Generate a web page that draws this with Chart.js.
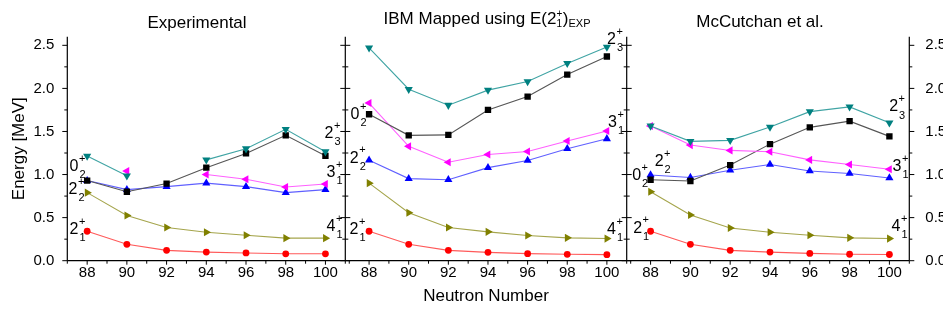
<!DOCTYPE html>
<html><head><meta charset="utf-8">
<script src="https://cdn.jsdelivr.net/npm/chart.js@4.4.0/dist/chart.umd.min.js"></script>
<style>
html,body{margin:0;padding:0;background:#fff;}
#wrap{position:relative;width:943px;height:313px;overflow:hidden;background:#fff;}
#wrap canvas{position:absolute;left:0;top:0;}
</style></head><body>
<div id="wrap">
<canvas id="c1" width="943" height="313" style="width:943px;height:313px"></canvas>
<canvas id="c2" width="943" height="313" style="width:943px;height:313px"></canvas>
<canvas id="c3" width="943" height="313" style="width:943px;height:313px"></canvas>
</div>
<script>
// ---------- data ----------
const neutronNumbers = [88, 90, 92, 94, 96, 98, 100];
const xTickLabels = [88, 90, 92, 94, 96, 98, 100];
const yTickLabels = [0.0, 0.5, 1.0, 1.5, 2.0, 2.5];

// Experimental
const exp_2_1 = [0.342, 0.190, 0.120, 0.100, 0.090, 0.080, 0.080];
const exp_4_1 = [0.790, 0.525, 0.385, 0.330, 0.295, 0.262, 0.262];
const exp_2_2 = [0.930, 0.825, 0.860, 0.900, 0.860, 0.790, 0.825];
const exp_0_2 = [0.930, 0.800, 0.895, 1.080, 1.245, 1.455, 1.217];
const exp_3_1 = [null, 1.040, null, 1.000, 0.945, 0.855, 0.890];
const exp_2_3 = [1.215, 0.985, null, 1.170, 1.300, 1.525, 1.265];

// IBM mapped using E(2_1+)_EXP
const ibm_2_1 = [0.342, 0.190, 0.120, 0.097, 0.082, 0.074, 0.070];
const ibm_4_1 = [0.900, 0.556, 0.385, 0.335, 0.292, 0.265, 0.257];
const ibm_2_2 = [1.167, 0.953, 0.940, 1.080, 1.163, 1.300, 1.415];
const ibm_0_2 = [1.700, 1.455, 1.460, 1.750, 1.905, 2.160, 2.370];
const ibm_3_1 = [1.830, 1.327, 1.143, 1.233, 1.268, 1.389, 1.505];
const ibm_2_3 = [2.470, 1.990, 1.805, 1.980, 2.080, 2.290, 2.480];

// McCutchan et al.
const mcc_2_1 = [0.342, 0.190, 0.120, 0.100, 0.085, 0.075, 0.072];
const mcc_4_1 = [0.800, 0.530, 0.380, 0.330, 0.295, 0.265, 0.257];
const mcc_2_2 = [0.995, 0.965, 1.050, 1.117, 1.042, 1.012, 0.960];
const mcc_0_2 = [0.940, 0.925, 1.110, 1.353, 1.548, 1.620, 1.443];
const mcc_3_1 = [1.564, 1.342, 1.280, 1.264, 1.170, 1.117, 1.062];
const mcc_2_3 = [1.564, 1.385, 1.397, 1.552, 1.730, 1.785, 1.600];

// ---------- styles ----------
const FONT = '"Liberation Sans", Arial, sans-serif';
Chart.defaults.color = '#000';
Chart.defaults.font.family = FONT;

const seriesStyle = {
  s21: {mk:'#ff0000', ln:'#ff5a5a', ps:'circle',   rot:0,   r:3.4},
  s41: {mk:'#808000', ln:'#a5a54c', ps:'triangle', rot:90,  r:4.7},
  s22: {mk:'#0000ff', ln:'#6060ff', ps:'triangle', rot:0,   r:4.7},
  s02: {mk:'#000000', ln:'#555555', ps:'rect',     rot:0,   r:4.5},
  s31: {mk:'#ff00ff', ln:'#ff60ff', ps:'triangle', rot:270, r:4.7},
  s23: {mk:'#008080', ln:'#40a4a4', ps:'triangle', rot:180, r:4.7}
};

function makeDatasets(list) {
  return list.map(([key, label, arr]) => {
    const s = seriesStyle[key];
    return {
      label: label,
      data: neutronNumbers.map((n, i) => ({x: n, y: arr[i]})),
      borderColor: s.ln, borderWidth: 1.1,
      backgroundColor: s.mk,
      pointBackgroundColor: s.mk, pointBorderColor: s.mk, pointBorderWidth: 0,
      pointStyle: s.ps, pointRotation: s.rot, pointRadius: s.r,
      spanGaps: false, tension: 0, fill: false
    };
  });
}

// level labels (data coordinates)
const labels1 = [
  {m:'2', s:'1', x:87.34, y:0.357}, {m:'4', s:'1', x:100.28, y:0.392},
  {m:'2', s:'2', x:87.29, y:0.822}, {m:'0', s:'2', x:87.34, y:1.090},
  {m:'3', s:'1', x:100.28, y:1.020}, {m:'2', s:'3', x:100.18, y:1.473}
];
const labels2 = [
  {m:'2', s:'3', x:100.23, y:2.566}, {m:'0', s:'2', x:87.29, y:1.694},
  {m:'3', s:'1', x:100.28, y:1.601}, {m:'2', s:'2', x:87.25, y:1.190},
  {m:'4', s:'1', x:100.23, y:0.357}, {m:'2', s:'1', x:87.24, y:0.357}
];
const labels3 = [
  {m:'2', s:'3', x:100.21, y:1.784}, {m:'2', s:'2', x:88.43, y:1.151},
  {m:'0', s:'2', x:87.30, y:0.988}, {m:'3', s:'1', x:100.38, y:1.093},
  {m:'4', s:'1', x:100.33, y:0.395}, {m:'2', s:'1', x:87.35, y:0.377}
];

function drawLevel(ctx, px, py, m, sub) {
  ctx.save();
  ctx.fillStyle = '#000';
  ctx.textBaseline = 'middle';
  ctx.font = '16px ' + FONT;
  ctx.textAlign = 'center';
  ctx.fillText(m, px, py);
  const w = ctx.measureText(m).width;
  ctx.font = '11px ' + FONT;
  ctx.textAlign = 'left';
  ctx.fillText('+', px + w/2 + 0.5, py - 8);
  ctx.fillText(sub, px + w/2 + 1, py + 8.5);
  ctx.restore();
}

function drawTitle(ctx, parts, cx, baseline) {
  ctx.save();
  ctx.fillStyle = '#000';
  ctx.textBaseline = 'alphabetic';
  let total = 0;
  const widths = parts.map(p => {
    ctx.font = p.size + 'px ' + FONT;
    const w = p.stack ? Math.max(ctx.measureText(p.t).width, ctx.measureText(p.t2).width) : ctx.measureText(p.t).width;
    total += w + (p.gap || 0);
    return w;
  });
  let x = cx - total/2;
  parts.forEach((p, i) => {
    ctx.font = p.size + 'px ' + FONT;
    ctx.textAlign = 'left';
    if (p.stack) {
      ctx.fillText(p.t, x, baseline + p.dy);
      ctx.fillText(p.t2, x, baseline + p.dy2);
    } else {
      ctx.fillText(p.t, x, baseline + (p.dy || 0));
    }
    x += widths[i] + (p.gap || 0);
  });
  ctx.restore();
}

const axesPlugin = {
  id: 'axesPlugin',
  afterDraw(chart, args, opts) {
    const {ctx, chartArea: a, scales: {x, y}} = chart;
    ctx.save();
    ctx.strokeStyle = '#000';
    ctx.lineWidth = 1.2;
    ctx.beginPath();
    ctx.moveTo(a.left, a.top); ctx.lineTo(a.left, a.bottom);
    if (opts.right) { ctx.moveTo(a.right, a.top); ctx.lineTo(a.right, a.bottom); }
    ctx.moveTo(a.left, a.bottom); ctx.lineTo(a.right, a.bottom);
    ctx.stroke();
    ctx.lineWidth = 1;
    ctx.beginPath();
    const yMaj = yTickLabels;
    const yMin = yMaj.map(v => v + 0.25);
    const drawY = (xp, mode, side) => {
      yMaj.forEach(v => {
        const p = y.getPixelForValue(v);
        if (mode === 'cross') { ctx.moveTo(xp - 5, p); ctx.lineTo(xp + 5, p); }
        else { ctx.moveTo(xp, p); ctx.lineTo(xp + side*5, p); }
      });
      yMin.forEach(v => {
        if (v > y.max) return;
        const p = y.getPixelForValue(v);
        if (mode === 'cross') { ctx.moveTo(xp - 3, p); ctx.lineTo(xp + 3, p); }
        else { ctx.moveTo(xp, p); ctx.lineTo(xp + side*3, p); }
      });
    };
    drawY(a.left, opts.leftMode, -1);
    if (opts.right) drawY(a.right, 'out', 1);
    xTickLabels.forEach(v => {
      const p = x.getPixelForValue(v);
      ctx.moveTo(p, a.bottom); ctx.lineTo(p, a.bottom + 4);
    });
    for (let v = 87; v <= 101; v += 2) {
      if (v < x.min || v > x.max) continue;
      const p = x.getPixelForValue(v);
      ctx.moveTo(p, a.bottom); ctx.lineTo(p, a.bottom + 3);
    }
    ctx.stroke();
    // x tick labels from the x scale
    ctx.fillStyle = '#000';
    ctx.font = '15px ' + FONT;
    ctx.textAlign = 'center';
    ctx.textBaseline = 'alphabetic';
    xTickLabels.forEach(v => {
      ctx.fillText(String(v), x.getPixelForValue(v), a.bottom + 16.3);
    });
    ctx.restore();
    (opts.levels || []).forEach(l => {
      drawLevel(ctx, x.getPixelForValue(l.x), y.getPixelForValue(l.y), l.m, l.s);
    });
    if (opts.title) drawTitle(ctx, opts.title.parts, opts.title.cx, opts.title.baseline);
  }
};

function makeChart(id, cfg) {
  const xOpts = {
    type: 'linear', min: cfg.xmin, max: 101,
    grid: {display: false}, border: {display: false},
    afterBuildTicks: s => { s.ticks = xTickLabels.map(v => ({value: v})); },
    ticks: {display: false},
    afterFit: s => { s.height = 313 - 260.7; },
    title: cfg.xTitle ? {display: true, text: 'Neutron Number', font: {size: 17}, padding: {top: 0, bottom: 6.5}} : {display: false}
  };
  const yOpts = {
    type: 'linear', min: 0, max: 2.6,
    position: cfg.yPos || 'left',
    display: cfg.yDisplay,
    grid: {display: false}, border: {display: false},
    afterBuildTicks: s => { s.ticks = yTickLabels.map(v => ({value: v})); },
    ticks: {font: {size: 15}, padding: cfg.yPad || 5, callback: v => Number(v).toFixed(1)},
    afterFit: s => { s.width = cfg.yWidth; },
    title: cfg.yTitle ? {display: true, text: 'Energy [MeV]', font: {size: 17}, padding: {top: 9, bottom: 0}} : {display: false}
  };
  return new Chart(document.getElementById(id), {
    type: 'line',
    data: {datasets: makeDatasets(cfg.series)},
    options: {
      responsive: false, animation: false, devicePixelRatio: 1,
      layout: {padding: {left: cfg.padL, right: cfg.padR, top: 36.7, bottom: 0}},
      plugins: {legend: {display: false}, tooltip: {enabled: false}, title: {display: false},
                axesPlugin: cfg.axes},
      scales: {x: xOpts, y: yOpts},
      events: []
    },
    plugins: [axesPlugin]
  });
}

makeChart('c1', {
  xmin: 87, padL: 0, padR: 943 - 345.3, yDisplay: true, yWidth: 67.3, yTitle: true,
  series: [['s23','2_3+',exp_2_3], ['s31','3_1+',exp_3_1], ['s02','0_2+',exp_0_2],
           ['s22','2_2+',exp_2_2], ['s41','4_1+',exp_4_1], ['s21','2_1+',exp_2_1]],
  axes: {leftMode: 'out', right: false, levels: labels1,
         title: {cx: 197, baseline: 28, parts: [{t: 'Experimental', size: 17}]}}
});
makeChart('c2', {
  xmin: 86.8, padL: 345.3, padR: 943 - 626.7, yDisplay: false, yWidth: 0, xTitle: true,
  series: [['s23','2_3+',ibm_2_3], ['s02','0_2+',ibm_0_2], ['s31','3_1+',ibm_3_1],
           ['s22','2_2+',ibm_2_2], ['s41','4_1+',ibm_4_1], ['s21','2_1+',ibm_2_1]],
  axes: {leftMode: 'cross', right: false, levels: labels2,
         title: {cx: 487, baseline: 24, parts: [
           {t: 'IBM Mapped using E(2', size: 17},
           {t: '+', t2: '1', stack: true, size: 10, dy: -7, dy2: 3, gap: 0.5},
           {t: ')', size: 17},
           {t: 'EXP', size: 11, dy: 3}
         ]}}
});
makeChart('c3', {
  xmin: 86.8, padL: 626.7, padR: 0, yDisplay: true, yPos: 'right', yWidth: 943 - 909.3, yPad: 8,
  series: [['s23','2_3+',mcc_2_3], ['s31','3_1+',mcc_3_1], ['s02','0_2+',mcc_0_2],
           ['s22','2_2+',mcc_2_2], ['s41','4_1+',mcc_4_1], ['s21','2_1+',mcc_2_1]],
  axes: {leftMode: 'cross', right: true, levels: labels3,
         title: {cx: 760, baseline: 27, parts: [{t: 'McCutchan et al.', size: 17}]}}
});
</script>
</body></html>
